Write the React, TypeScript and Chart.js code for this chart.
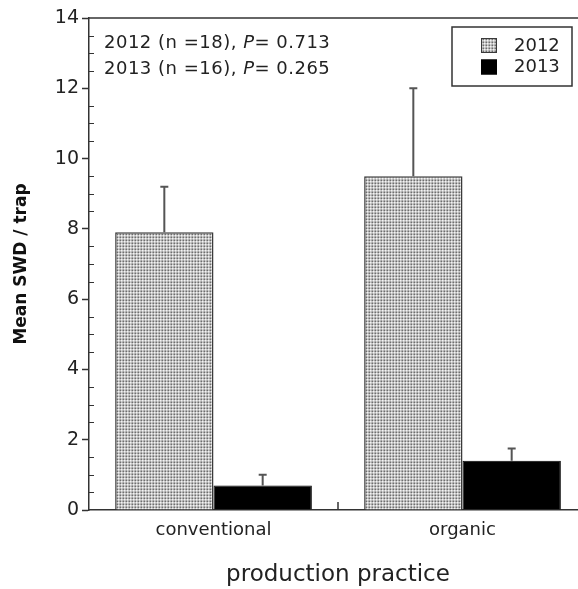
import React, { useEffect, useRef } from 'react';
import { Chart, registerables } from 'chart.js';

Chart.register(...registerables);

const categories = ['conventional', 'organic'];
const seriesLabels = ['2012', '2013'];
const means2012 = [7.9, 9.5];
const means2013 = [0.7, 1.4];
const errors2012 = [1.3, 2.5];
const errors2013 = [0.3, 0.35];
const sampleSizes = [18, 16];
const pValues = ['0.713', '0.265'];
const yMin = 0;
const yMax = 14;
const yMinorStep = 0.5;
const yMajorStep = 2;

const FONT = "'DejaVu Sans', sans-serif";
const TEXT = '#222';
const AXIS = '#333';

function makePattern(): CanvasPattern | string {
  const c = document.createElement('canvas');
  c.width = 3;
  c.height = 3;
  const g = c.getContext('2d');
  if (!g) return '#c0c0c0';
  const px = [
    ['#6e6e6e', '#c4c4c4', '#a0a0a0'],
    ['#c4c4c4', '#f4f4f4', '#d6d6d6'],
    ['#a0a0a0', '#d6d6d6', '#bcbcbc'],
  ];
  for (let r = 0; r < 3; r++) {
    for (let q = 0; q < 3; q++) {
      g.fillStyle = px[r][q];
      g.fillRect(q, r, 1, 1);
    }
  }
  const p = g.createPattern(c, 'repeat');
  return p || '#c0c0c0';
}

const decorPlugin = {
  id: 'decor',
  afterDatasetsDraw(chart: any) {
    const { ctx, scales } = chart;
    const y = scales.y;
    chart.data.datasets.forEach((ds: any, di: number) => {
      const meta = chart.getDatasetMeta(di);
      meta.data.forEach((bar: any, i: number) => {
        const v = ds.data[i];
        const e = ds.errors[i];
        const top = y.getPixelForValue(v);
        const et = y.getPixelForValue(v + e);
        ctx.save();
        ctx.strokeStyle = '#555';
        ctx.lineWidth = 2;
        ctx.beginPath();
        ctx.moveTo(bar.x, top);
        ctx.lineTo(bar.x, et);
        ctx.moveTo(bar.x - 4, et);
        ctx.lineTo(bar.x + 4, et);
        ctx.stroke();
        ctx.restore();
      });
    });
  },
  afterDraw(chart: any) {
    const { ctx, chartArea, scales } = chart;
    const y = scales.y;
    const x = scales.x;
    ctx.save();
    ctx.strokeStyle = AXIS;
    ctx.lineWidth = 1.5;
    // top frame line
    ctx.beginPath();
    ctx.moveTo(chartArea.left, chartArea.top);
    ctx.lineTo(chartArea.right, chartArea.top);
    ctx.stroke();
    // minor inward ticks
    ctx.lineWidth = 1.2;
    ctx.beginPath();
    y.ticks.forEach((t: any) => {
      if (Math.abs(t.value % yMajorStep) > 1e-6) {
        const py = Math.round(y.getPixelForValue(t.value)) + 0.5;
        ctx.moveTo(chartArea.left, py);
        ctx.lineTo(chartArea.left + 5, py);
      }
    });
    ctx.stroke();
    // middle x tick between categories
    ctx.lineWidth = 1.5;
    const mx = x.getPixelForValue(0.5);
    ctx.beginPath();
    ctx.moveTo(mx, chartArea.bottom);
    ctx.lineTo(mx, chartArea.bottom - 8);
    ctx.stroke();

    // legend
    const bx = chartArea.right - 135;
    const by = chartArea.top + 9;
    ctx.strokeStyle = '#333';
    ctx.lineWidth = 1.5;
    ctx.strokeRect(bx, by, 120, 59);
    chart.data.datasets.forEach((ds: any, di: number) => {
      const sy = by + 11 + di * 21.5;
      ctx.fillStyle = ds.backgroundColor;
      ctx.fillRect(bx + 29, sy, 16, 15);
      ctx.strokeStyle = ds.borderColor;
      ctx.lineWidth = 1;
      ctx.strokeRect(bx + 29.5, sy + 0.5, 15, 14);
      ctx.fillStyle = TEXT;
      ctx.font = `18px ${FONT}`;
      ctx.textBaseline = 'middle';
      ctx.textAlign = 'left';
      ctx.fillText(ds.label, bx + 62, sy + 8);
    });

    // annotation
    const ax = chartArea.left + 15;
    (ctx as any).letterSpacing = '0.5px';
    seriesLabels.forEach((lab, i) => {
      const ly = chartArea.top + 25 + i * 26;
      ctx.fillStyle = TEXT;
      ctx.textBaseline = 'middle';
      ctx.textAlign = 'left';
      ctx.font = `18px ${FONT}`;
      const a = `${lab} (n =${sampleSizes[i]}), `;
      ctx.fillText(a, ax, ly);
      let cx = ax + ctx.measureText(a).width;
      ctx.font = `italic 18px ${FONT}`;
      ctx.fillText('P', cx, ly);
      cx += ctx.measureText('P').width;
      ctx.font = `18px ${FONT}`;
      ctx.fillText(`= ${pValues[i]}`, cx, ly);
    });
    (ctx as any).letterSpacing = '0px';
    ctx.restore();
  },
};

export default function App() {
  const ref = useRef<HTMLCanvasElement | null>(null);
  useEffect(() => {
    if (!ref.current) return;
    const pattern = makePattern();
    const chart = new Chart(ref.current, {
      type: 'bar',
      data: {
        labels: categories,
        datasets: [
          {
            label: seriesLabels[0],
            data: means2012,
            errors: errors2012,
            backgroundColor: pattern as any,
            borderColor: '#3a3a3a',
            borderWidth: 1.5,
            barPercentage: 1,
            categoryPercentage: 0.79,
          } as any,
          {
            label: seriesLabels[1],
            data: means2013,
            errors: errors2013,
            backgroundColor: '#000',
            borderColor: '#000',
            borderWidth: 1,
            barPercentage: 1,
            categoryPercentage: 0.79,
          } as any,
        ],
      },
      options: {
        animation: false,
        responsive: false,
        maintainAspectRatio: false,
        devicePixelRatio: 1,
        layout: { padding: { left: 0, top: 18, right: 10, bottom: 0 } },
        plugins: {
          legend: { display: false },
          tooltip: { enabled: false },
          title: { display: false },
        },
        scales: {
          x: {
            type: 'category',
            offset: true,
            grid: { display: false, drawTicks: false },
            border: { display: true, color: AXIS, width: 1.5 },
            ticks: { color: TEXT, font: { family: FONT, size: 18 }, padding: 10, maxRotation: 0 },
            title: {
              display: true,
              text: 'production practice',
              color: TEXT,
              font: { family: FONT, size: 23 },
              padding: { top: 0, bottom: 0 },
            },
            afterFit: (s: any) => { s.height = 79; },
          },
          y: {
            min: yMin,
            max: yMax,
            ticks: {
              stepSize: yMinorStep,
              autoSkip: false,
              color: TEXT,
              font: { family: FONT, size: 19 },
              padding: 3,
              callback: (v: any) => (Math.abs(Number(v) % yMajorStep) < 1e-6 ? String(v) : ''),
            },
            grid: {
              drawOnChartArea: false,
              drawTicks: true,
              tickLength: 7,
              tickWidth: 1.5,
              color: (c: any) =>
                c.tick && Math.abs(c.tick.value % yMajorStep) < 1e-6 ? AXIS : 'rgba(0,0,0,0)',
            },
            border: { display: true, color: AXIS, width: 1.5 },
            title: {
              display: true,
              text: 'Mean SWD / trap',
              color: '#111',
              font: { family: FONT, size: 17, weight: 'bold' },
              padding: { top: 11, bottom: 0 },
            },
            afterFit: (s: any) => { s.width = 89; },
          },
        },
      },
      plugins: [decorPlugin],
    } as any);
    return () => chart.destroy();
  }, []);
  return (
    <div style={{ position: 'fixed', left: 0, top: 0, width: 578, height: 589, overflow: 'hidden', background: '#fff' }}>
      <canvas ref={ref} width={597} height={589} style={{ display: 'block', width: 597, height: 589 }} />
    </div>
  );
}
